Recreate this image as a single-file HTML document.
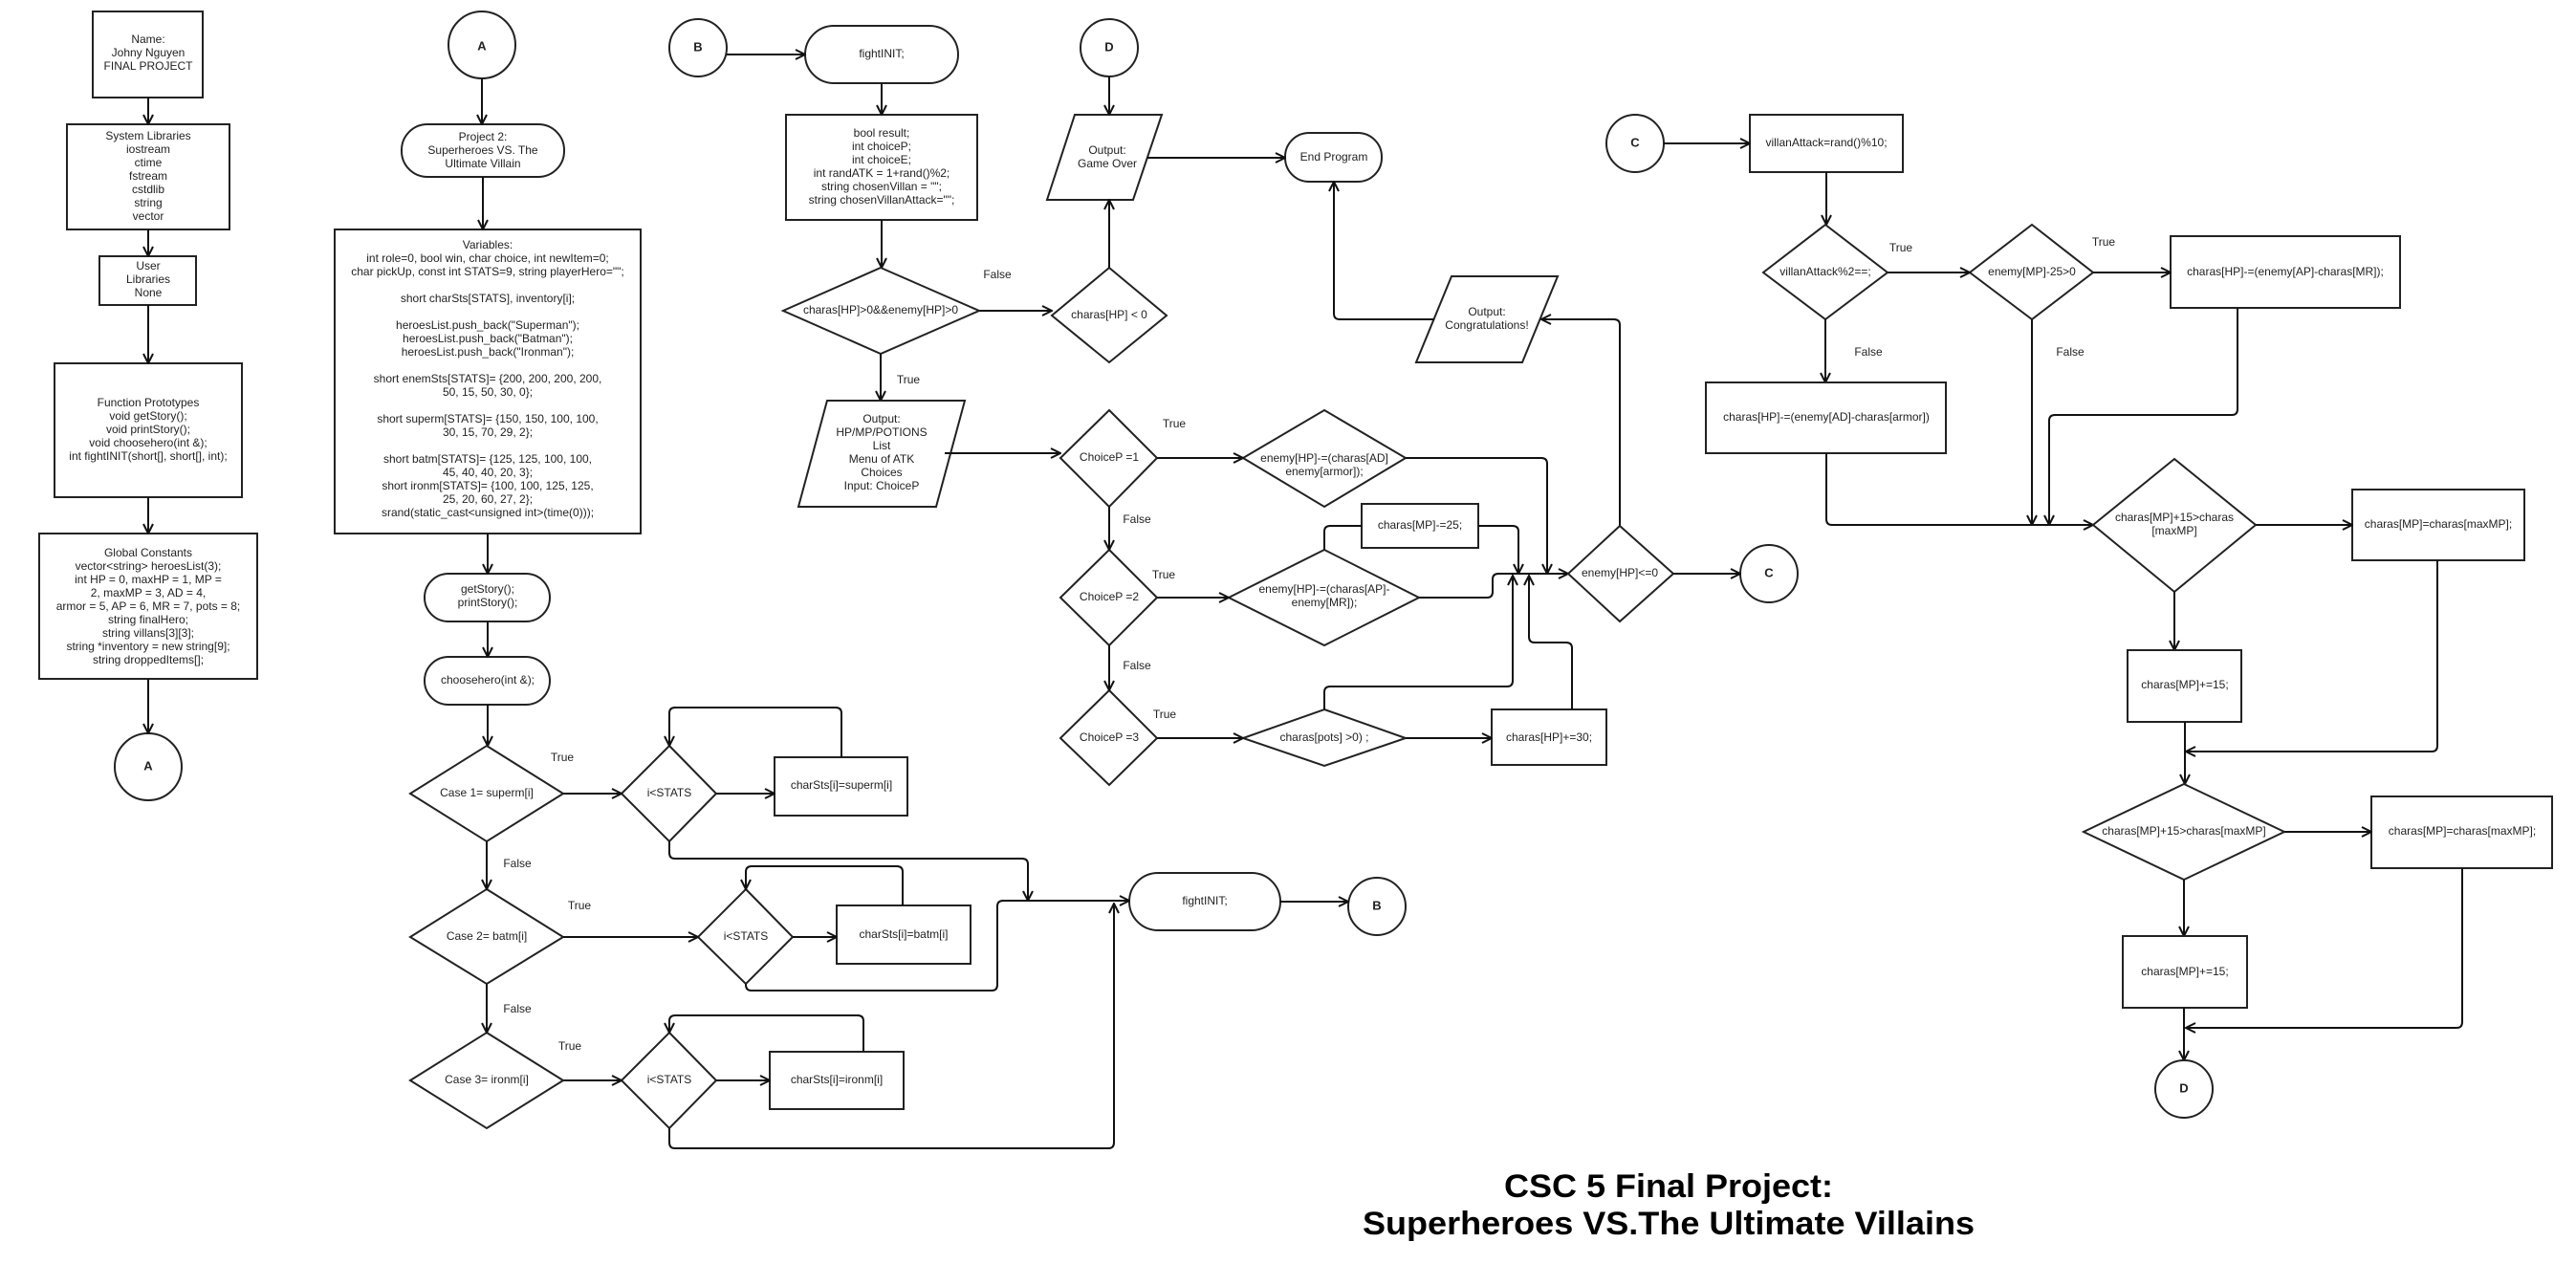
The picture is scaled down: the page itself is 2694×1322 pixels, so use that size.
<!DOCTYPE html>
<html><head><meta charset="utf-8"><style>
html,body{margin:0;padding:0;background:#fff;}
svg{display:block;}
text{font-family:"Liberation Sans",sans-serif;font-size:12px;fill:#222;text-anchor:middle;dominant-baseline:middle;}
.s{fill:#fff;stroke:#222;stroke-width:2;}
.c{fill:none;stroke:#111;stroke-width:2;}
.b{font-weight:bold;font-size:13px;}
</style></head><body>
<svg width="2694" height="1322" viewBox="0 0 2694 1322" xmlns="http://www.w3.org/2000/svg">
<defs><marker id="a" viewBox="0 0 12 12" refX="11" refY="6" markerWidth="12" markerHeight="12" markerUnits="userSpaceOnUse" orient="auto"><path d="M1,1 L11,6 L1,11" fill="none" stroke="#111" stroke-width="2"/></marker></defs>

<!-- LEFT COLUMN -->
<rect class="s" x="97" y="12" width="115" height="90"/>
<text x="155" y="42">Name:</text><text x="155" y="56">Johny Nguyen</text><text x="155" y="70">FINAL PROJECT</text>
<rect class="s" x="70" y="130" width="170" height="110"/>
<text x="155" y="143">System Libraries</text><text x="155" y="157">iostream</text><text x="155" y="171">ctime</text><text x="155" y="185">fstream</text><text x="155" y="199">cstdlib</text><text x="155" y="213">string</text><text x="155" y="227">vector</text>
<rect class="s" x="104" y="268" width="101" height="51"/>
<text x="155" y="279">User</text><text x="155" y="293">Libraries</text><text x="155" y="307">None</text>
<rect class="s" x="57" y="380" width="196" height="140"/>
<text x="155" y="422">Function Prototypes</text><text x="155" y="436">void getStory();</text><text x="155" y="450">void printStory();</text><text x="155" y="464">void choosehero(int &amp;);</text><text x="155" y="478">int fightINIT(short[], short[], int);</text>
<rect class="s" x="41" y="558" width="228" height="152"/>
<text x="155" y="579">Global Constants</text><text x="155" y="593">vector&lt;string&gt; heroesList(3);</text><text x="155" y="607">int HP = 0, maxHP = 1, MP =</text><text x="155" y="621">2, maxMP = 3, AD = 4,</text><text x="155" y="635">armor = 5, AP = 6, MR = 7, pots = 8;</text><text x="155" y="649">string finalHero;</text><text x="155" y="663">string villans[3][3];</text><text x="155" y="677">string *inventory = new string[9];</text><text x="155" y="691">string droppedItems[];</text>
<circle class="s" cx="155" cy="802" r="35"/><text class="b" x="155" y="802">A</text>
<path class="c" marker-end="url(#a)" d="M155,102V130"/>
<path class="c" marker-end="url(#a)" d="M155,240V268"/>
<path class="c" marker-end="url(#a)" d="M155,319V380"/>
<path class="c" marker-end="url(#a)" d="M155,520V558"/>
<path class="c" marker-end="url(#a)" d="M155,710V767"/>

<!-- SECOND COLUMN -->
<circle class="s" cx="504" cy="47" r="35"/><text class="b" x="504" y="49">A</text>
<rect class="s" x="420" y="130" width="170" height="55" rx="27"/>
<text x="505" y="144">Project 2:</text><text x="505" y="158">Superheroes VS. The</text><text x="505" y="172">Ultimate Villain</text>
<rect class="s" x="350" y="240" width="320" height="318"/>
<text x="510" y="257">Variables:</text>
<text x="510" y="271">int role=0, bool win, char choice, int newItem=0;</text>
<text x="510" y="285">char pickUp, const int STATS=9, string playerHero="";</text>
<text x="510" y="313">short charSts[STATS],  inventory[i];</text>
<text x="510" y="341">heroesList.push_back("Superman");</text>
<text x="510" y="355">heroesList.push_back("Batman");</text>
<text x="510" y="369">heroesList.push_back("Ironman");</text>
<text x="510" y="397">short enemSts[STATS]= {200, 200, 200, 200,</text>
<text x="510" y="411">50, 15, 50, 30, 0};</text>
<text x="510" y="439">short superm[STATS]= {150, 150, 100, 100,</text>
<text x="510" y="453">30, 15, 70, 29, 2};</text>
<text x="510" y="481">short batm[STATS]= {125, 125, 100, 100,</text>
<text x="510" y="495">45, 40, 40, 20, 3};</text>
<text x="510" y="509">short ironm[STATS]= {100, 100, 125, 125,</text>
<text x="510" y="523">25, 20, 60, 27, 2};</text>
<text x="510" y="537">srand(static_cast&lt;unsigned int&gt;(time(0)));</text>
<rect class="s" x="444" y="600" width="131" height="50" rx="25"/>
<text x="510" y="617">getStory();</text><text x="510" y="631">printStory();</text>
<rect class="s" x="444" y="687" width="131" height="50" rx="25"/>
<text x="510" y="712">choosehero(int &amp;);</text>
<path class="c" marker-end="url(#a)" d="M504,82V130"/>
<path class="c" marker-end="url(#a)" d="M505,185V240"/>
<path class="c" marker-end="url(#a)" d="M510,558V600"/>
<path class="c" marker-end="url(#a)" d="M510,650V687"/>
<path class="c" marker-end="url(#a)" d="M510,737V780"/>

<polygon class="s" points="509,780 589,830 509,880 429,830"/><text x="509" y="830">Case 1= superm[i]</text>
<polygon class="s" points="700,780 749,830 700,880 650,830"/><text x="700" y="830">i&lt;STATS</text>
<rect class="s" x="810" y="792" width="139" height="61"/><text x="880" y="822">charSts[i]=superm[i]</text>
<polygon class="s" points="509,930 589,980 509,1029 429,980"/><text x="509" y="980">Case 2= batm[i]</text>
<polygon class="s" points="780,930 829,980 780,1029 730,980"/><text x="780" y="980">i&lt;STATS</text>
<rect class="s" x="875" y="947" width="140" height="61"/><text x="945" y="978">charSts[i]=batm[i]</text>
<polygon class="s" points="509,1080 589,1130 509,1180 429,1130"/><text x="509" y="1130">Case 3= ironm[i]</text>
<polygon class="s" points="700,1080 749,1130 700,1180 650,1130"/><text x="700" y="1130">i&lt;STATS</text>
<rect class="s" x="805" y="1100" width="140" height="60"/><text x="875" y="1130">charSts[i]=ironm[i]</text>
<rect class="s" x="1181" y="913" width="158" height="60" rx="30"/><text x="1260" y="943">fightINIT;</text>
<circle class="s" cx="1440" cy="948" r="30"/><text class="b" x="1440" y="948">B</text>
<path class="c" marker-end="url(#a)" d="M509,880V930"/>
<path class="c" marker-end="url(#a)" d="M509,1029V1080"/>
<path class="c" marker-end="url(#a)" d="M589,830H650"/>
<path class="c" marker-end="url(#a)" d="M749,830H810"/>
<path class="c" marker-end="url(#a)" d="M880,792V746Q880,740 874,740H706Q700,740 700,746V780"/>
<path class="c" marker-end="url(#a)" d="M589,980H730"/>
<path class="c" marker-end="url(#a)" d="M829,980H875"/>
<path class="c" marker-end="url(#a)" d="M944,947V912Q944,906 938,906H786Q780,906 780,912V930"/>
<path class="c" marker-end="url(#a)" d="M589,1130H650"/>
<path class="c" marker-end="url(#a)" d="M749,1130H805"/>
<path class="c" marker-end="url(#a)" d="M903,1100V1068Q903,1062 897,1062H706Q700,1062 700,1068V1080"/>
<path class="c" marker-end="url(#a)" d="M700,880V892Q700,898 706,898H1069Q1075,898 1075,904V942"/>
<path class="c" marker-end="url(#a)" d="M780,1029V1030Q780,1036 786,1036H1037Q1043,1036 1043,1030V948Q1043,942 1049,942H1181"/>
<path class="c" marker-end="url(#a)" d="M700,1180V1195Q700,1201 706,1201H1159Q1165,1201 1165,1195V945"/>
<path class="c" marker-end="url(#a)" d="M1339,943H1410"/>
<text x="588" y="793">True</text><text x="541" y="904">False</text><text x="606" y="948">True</text><text x="541" y="1056">False</text><text x="596" y="1095">True</text>

<!-- FIGHT COLUMN -->
<circle class="s" cx="730" cy="50" r="30"/><text class="b" x="730" y="50">B</text>
<rect class="s" x="842" y="27" width="160" height="60" rx="30"/><text x="922" y="57">fightINIT;</text>
<path class="c" marker-end="url(#a)" d="M760,57H842"/>
<rect class="s" x="822" y="120" width="200" height="110"/>
<text x="922" y="140">bool result;</text><text x="922" y="154">int choiceP;</text><text x="922" y="168">int choiceE;</text><text x="922" y="182">int randATK = 1+rand()%2;</text><text x="922" y="196">string chosenVillan = "";</text><text x="922" y="210">string chosenVillanAttack="";</text>
<path class="c" marker-end="url(#a)" d="M922,87V120"/>
<path class="c" marker-end="url(#a)" d="M922,230V280"/>
<polygon class="s" points="921,280 1024,325 921,370 819,325"/><text x="921" y="325">charas[HP]&gt;0&amp;&amp;enemy[HP]&gt;0</text>
<polygon class="s" points="1160,280 1220,330 1160,379 1100,330"/><text x="1160" y="330">charas[HP] &lt; 0</text>
<path class="c" marker-end="url(#a)" d="M1024,325H1100"/>
<text x="1043" y="288">False</text>
<circle class="s" cx="1160" cy="50" r="30"/><text class="b" x="1160" y="50">D</text>
<polygon class="s" points="1124,120 1215,120 1185,209 1095,209"/><text x="1158" y="158">Output:</text><text x="1158" y="172">Game Over</text>
<path class="c" marker-end="url(#a)" d="M1160,80V120"/>
<path class="c" marker-end="url(#a)" d="M1160,280V209"/>
<rect class="s" x="1344" y="139" width="101" height="51" rx="25"/><text x="1395" y="165">End Program</text>
<path class="c" marker-end="url(#a)" d="M1200,165H1344"/>
<polygon class="s" points="1518,289 1629,289 1592,379 1481,379"/><text x="1555" y="327">Output:</text><text x="1555" y="341">Congratulations!</text>
<path class="c" marker-end="url(#a)" d="M1500,334H1401Q1395,334 1395,328V190"/>
<path class="c" marker-end="url(#a)" d="M1694,550V340Q1694,334 1688,334H1612"/>
<path class="c" marker-end="url(#a)" d="M921,370V419"/>
<text x="950" y="398">True</text>
<polygon class="s" points="865,419 1009,419 979,530 835,530"/>
<text x="922" y="439">Output:</text><text x="922" y="453">HP/MP/POTIONS</text><text x="922" y="467">List</text><text x="922" y="481">Menu of ATK</text><text x="922" y="495">Choices</text><text x="922" y="509">Input: ChoiceP</text>
<path class="c" marker-end="url(#a)" d="M988,474H1109"/>
<polygon class="s" points="1160,429 1210,479 1160,530 1109,479"/><text x="1160" y="479">ChoiceP =1</text>
<polygon class="s" points="1160,575 1210,625 1160,675 1109,625"/><text x="1160" y="625">ChoiceP =2</text>
<polygon class="s" points="1160,722 1210,772 1160,821 1109,772"/><text x="1160" y="772">ChoiceP =3</text>
<path class="c" marker-end="url(#a)" d="M1160,530V575"/>
<path class="c" marker-end="url(#a)" d="M1160,675V722"/>
<text x="1228" y="444">True</text><text x="1189" y="544">False</text><text x="1217" y="602">True</text><text x="1189" y="697">False</text><text x="1218" y="748">True</text>
<polygon class="s" points="1385,429 1470,479 1385,530 1300,479"/><text x="1385" y="480">enemy[HP]-=(charas[AD]</text><text x="1385" y="494">enemy[armor]);</text>
<polygon class="s" points="1385,575 1484,625 1385,675 1285,625"/><text x="1385" y="617">enemy[HP]-=(charas[AP]-</text><text x="1385" y="631">enemy[MR]);</text>
<rect class="s" x="1424" y="527" width="122" height="46"/><text x="1485" y="550">charas[MP]-=25;</text>
<polygon class="s" points="1385,742 1470,772 1385,801 1300,772"/><text x="1385" y="772">charas[pots] &gt;0) ;</text>
<rect class="s" x="1560" y="742" width="120" height="58"/><text x="1620" y="772">charas[HP]+=30;</text>
<path class="c" marker-end="url(#a)" d="M1210,479H1300"/>
<path class="c" marker-end="url(#a)" d="M1210,625H1285"/>
<path class="c" marker-end="url(#a)" d="M1210,772H1300"/>
<path class="c" marker-end="url(#a)" d="M1470,772H1560"/>
<path class="c" marker-end="url(#a)" d="M1470,479H1612Q1618,479 1618,485V600"/>
<path class="c" d="M1385,575V556Q1385,550 1391,550H1424"/>
<path class="c" marker-end="url(#a)" d="M1546,550H1582Q1588,550 1588,556V600"/>
<path class="c" marker-end="url(#a)" d="M1484,625H1555Q1561,625 1561,619V606Q1561,600 1567,600H1640"/>
<path class="c" marker-end="url(#a)" d="M1385,742V724Q1385,718 1391,718H1576Q1582,718 1582,712V602"/>
<path class="c" marker-end="url(#a)" d="M1644,742V678Q1644,672 1638,672H1605Q1599,672 1599,666V602"/>
<polygon class="s" points="1694,550 1750,600 1694,650 1640,600"/><text x="1694" y="600">enemy[HP]&lt;=0</text>
<circle class="s" cx="1850" cy="600" r="30"/><text class="b" x="1850" y="600">C</text>
<path class="c" marker-end="url(#a)" d="M1750,600H1820"/>

<!-- RIGHT COLUMN -->
<circle class="s" cx="1710" cy="150" r="30"/><text class="b" x="1710" y="150">C</text>
<rect class="s" x="1830" y="120" width="160" height="60"/><text x="1910" y="150">villanAttack=rand()%10;</text>
<path class="c" marker-end="url(#a)" d="M1740,150H1830"/>
<path class="c" marker-end="url(#a)" d="M1910,180V235"/>
<polygon class="s" points="1909,235 1974,285 1909,334 1844,285"/><text x="1909" y="285">villanAttack%2==;</text>
<polygon class="s" points="2125,235 2189,285 2125,334 2060,285"/><text x="2125" y="285">enemy[MP]-25&gt;0</text>
<rect class="s" x="2270" y="247" width="240" height="75"/><text x="2390" y="285">charas[HP]-=(enemy[AP]-charas[MR]);</text>
<path class="c" marker-end="url(#a)" d="M1974,285H2060"/>
<path class="c" marker-end="url(#a)" d="M2189,285H2270"/>
<text x="1988" y="260">True</text><text x="2200" y="254">True</text><text x="1954" y="369">False</text><text x="2165" y="369">False</text>
<path class="c" marker-end="url(#a)" d="M1909,334V400"/>
<rect class="s" x="1784" y="400" width="251" height="74"/><text x="1910" y="437">charas[HP]-=(enemy[AD]-charas[armor])</text>
<path class="c" marker-end="url(#a)" d="M1910,474V543Q1910,549 1916,549H2189"/>
<path class="c" marker-end="url(#a)" d="M2125,334V549"/>
<path class="c" marker-end="url(#a)" d="M2340,322V428Q2340,434 2334,434H2149Q2143,434 2143,440V549"/>
<polygon class="s" points="2274,480 2359,549 2274,619 2189,549"/><text x="2274" y="542">charas[MP]+15&gt;charas</text><text x="2274" y="556">[maxMP]</text>
<rect class="s" x="2460" y="512" width="180" height="74"/><text x="2550" y="549">charas[MP]=charas[maxMP];</text>
<path class="c" marker-end="url(#a)" d="M2359,549H2460"/>
<path class="c" marker-end="url(#a)" d="M2274,619V680"/>
<rect class="s" x="2225" y="680" width="119" height="75"/><text x="2285" y="717">charas[MP]+=15;</text>
<path class="c" marker-end="url(#a)" d="M2549,586V780Q2549,786 2543,786H2286"/>
<path class="c" marker-end="url(#a)" d="M2285,755V820"/>
<polygon class="s" points="2284,820 2389,870 2284,920 2179,870"/><text x="2284" y="870">charas[MP]+15&gt;charas[maxMP]</text>
<rect class="s" x="2480" y="833" width="189" height="75"/><text x="2575" y="870">charas[MP]=charas[maxMP];</text>
<path class="c" marker-end="url(#a)" d="M2389,870H2480"/>
<path class="c" marker-end="url(#a)" d="M2284,920V979"/>
<rect class="s" x="2220" y="979" width="130" height="75"/><text x="2285" y="1017">charas[MP]+=15;</text>
<path class="c" marker-end="url(#a)" d="M2575,908V1069Q2575,1075 2569,1075H2286"/>
<path class="c" marker-end="url(#a)" d="M2284,1054V1109"/>
<circle class="s" cx="2284" cy="1139" r="30"/><text class="b" x="2284" y="1139">D</text>

<!-- TITLE -->
<text x="1745" y="1243" style="font-size:34px;font-weight:bold;fill:#000" textLength="344" lengthAdjust="spacingAndGlyphs">CSC 5 Final Project:</text>
<text x="1745" y="1282" style="font-size:34px;font-weight:bold;fill:#000" textLength="640" lengthAdjust="spacingAndGlyphs">Superheroes VS.The Ultimate Villains</text>
</svg>
</body></html>
